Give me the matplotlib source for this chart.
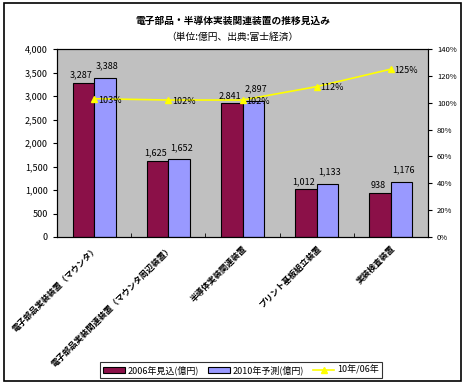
import matplotlib.pyplot as plt
import numpy as np
from matplotlib.patches import Rectangle

plt.rcParams['font.family'] = ['Noto Sans CJK JP', 'DejaVu Sans']

categories = ['電子部品実装装置（マウンタ）', '電子部品実装関連装置（マウンタ周辺装置）',
              '半導体実装関連装置', 'プリント基板組立装置', '実装検査装置']
v2006 = [3287, 1625, 2841, 1012, 938]
v2010 = [3388, 1652, 2897, 1133, 1176]
ratio = [103, 102, 102, 112, 125]

fig = plt.figure(figsize=(4.65, 3.84), dpi=100)
fig.patches.append(Rectangle((0.008, 0.008), 0.984, 0.984, transform=fig.transFigure,
                             fill=False, edgecolor='black', linewidth=1.2))
ax = fig.add_axes([57 / 465, 1 - 237 / 384, 371 / 465, 188 / 384])
ax.set_facecolor('#C0C0C0')

x = np.arange(len(categories))
w = 0.29
b1 = ax.bar(x - w / 2, v2006, w, color='#8B1048', edgecolor='black', linewidth=0.8,
            label='2006年見込(億円)')
b2 = ax.bar(x + w / 2, v2010, w, color='#9999FF', edgecolor='black', linewidth=0.8,
            label='2010年予測(億円)')
for xi, v in zip(x, v2006):
    ax.text(xi - w / 2 - 0.03, v + 60, f'{v:,}', ha='center', va='bottom', fontsize=6.5)
for xi, v in zip(x, v2010):
    ax.text(xi + w / 2 + 0.03, v + 150, f'{v:,}', ha='center', va='bottom', fontsize=6.5)

ax.set_xlim(-0.5, len(categories) - 0.5)
ax.set_ylim(0, 4000)
ax.set_yticks(np.arange(0, 4001, 500))
ax.yaxis.set_major_formatter(plt.FuncFormatter(lambda v, p: f'{int(v):,}'))
ax.tick_params(axis='y', labelsize=6.5, length=3)
ax.set_xticks(x)
ax.set_xticklabels(categories, rotation=45, ha='right', rotation_mode='anchor',
                   fontsize=6, fontweight='bold')
ax.tick_params(axis='x', length=0, pad=5)
ax.set_xticks(np.arange(0.5, len(categories) - 0.5, 1), minor=True)
ax.tick_params(axis='x', which='minor', length=3, direction='in')

ax2 = ax.twinx()
ln, = ax2.plot(x, ratio, color='#FFFF00', marker='^', markersize=4, linewidth=1.2,
               label='10年/06年')
for xi, r in zip(x, ratio):
    ax2.text(xi + 0.05, r - 1, f'{r}%', ha='left', va='center', fontsize=6.5)
ax2.set_ylim(0, 140)
ax2.set_yticks(np.arange(0, 141, 20))
ax2.yaxis.set_major_formatter(plt.FuncFormatter(lambda v, p: f'{int(v)}%'))
ax2.tick_params(axis='y', labelsize=5.5, length=3)

fig.text(0.5, 0.945, '電子部品・半導体実装関連装置の推移見込み', ha='center', va='center',
         fontsize=7, fontweight='bold')
fig.text(0.5, 0.905, '（単位:億円、出典:富士経済）', ha='center', va='center', fontsize=7)

leg = fig.legend(handles=[b1, b2, ln], loc='center', bbox_to_anchor=(241 / 465, 1 - 370 / 384),
                 ncol=3, fontsize=6.5, frameon=True, fancybox=False, edgecolor='black',
                 handlelength=2.4, handletextpad=0.3, columnspacing=1.0, borderpad=0.3)
leg.get_frame().set_linewidth(0.8)

fig.savefig('out.png', dpi=100)
